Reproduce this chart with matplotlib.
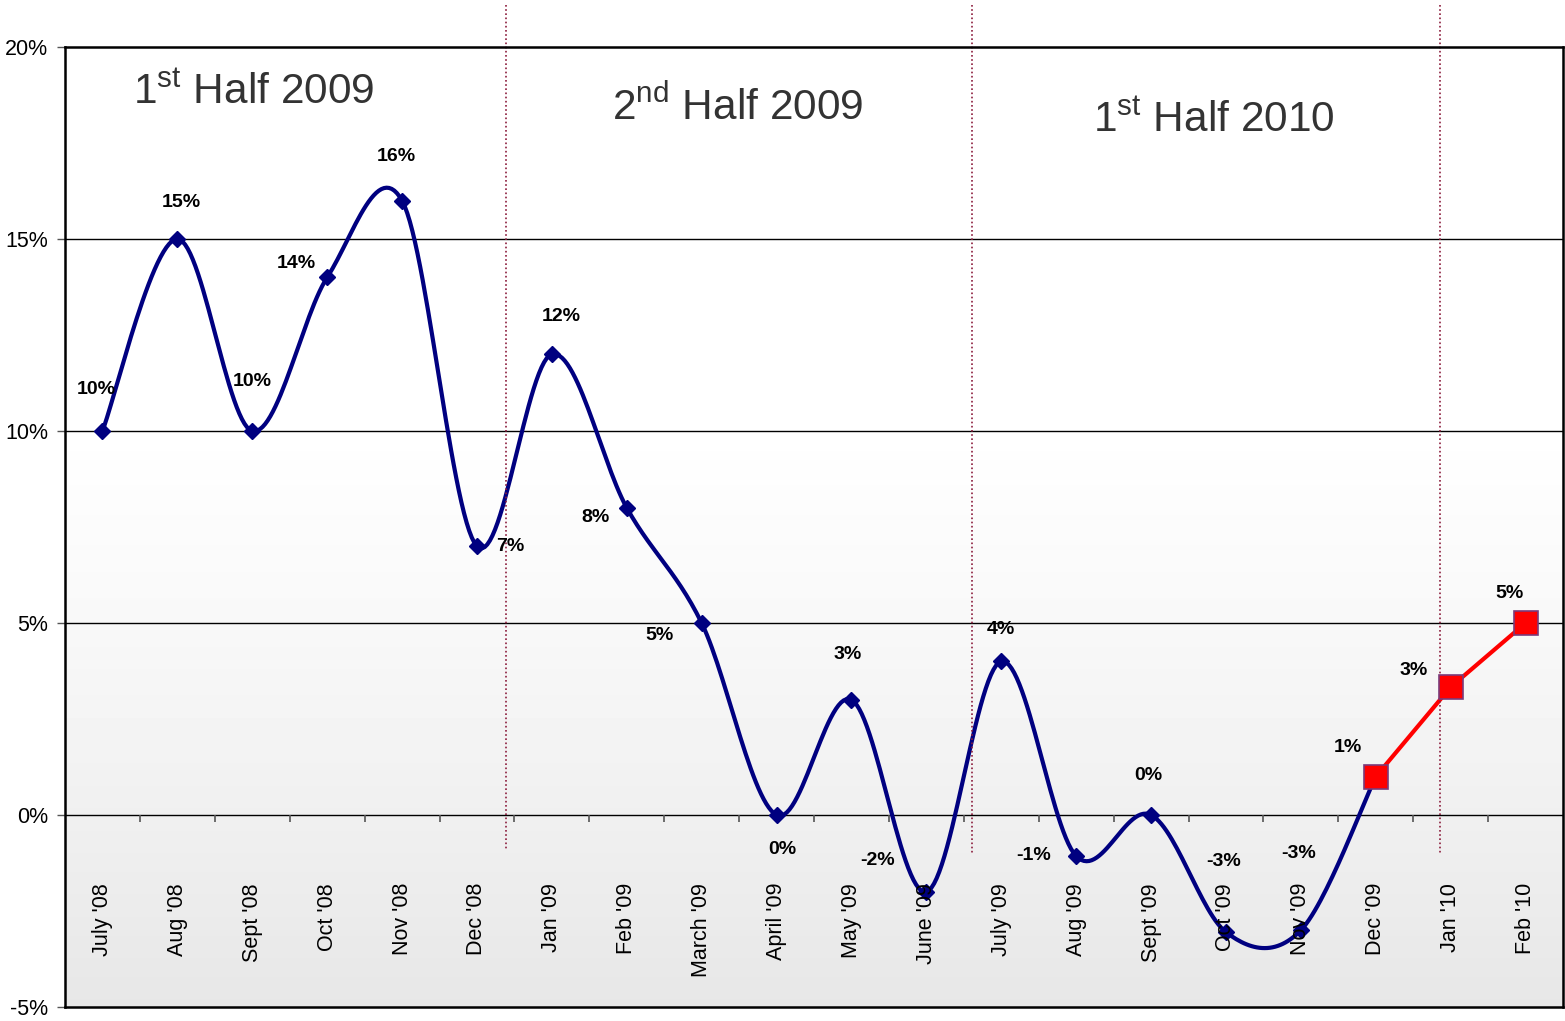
import numpy as np
import matplotlib
matplotlib.use("Agg")
import matplotlib.pyplot as plt
import matplotlib.transforms as mtransforms

plt.rcParams['font.family'] = ['Liberation Sans', 'DejaVu Sans']
plt.rcParams['mathtext.fontset'] = 'custom'
plt.rcParams['mathtext.rm'] = 'Liberation Sans'
plt.rcParams['mathtext.it'] = 'Liberation Sans'

# ---------------- data ----------------
months = ["July '08", "Aug '08", "Sept '08", "Oct '08", "Nov '08", "Dec '08",
          "Jan '09", "Feb '09", "March '09", "April '09", "May '09", "June '09",
          "July '09", "Aug '09", "Sept '09", "Oct '09", "Nov '09", "Dec '09",
          "Jan '10", "Feb '10"]
actual = [10, 15, 10, 14, 16, 7, 12, 8, 5, 0, 3, -2, 4, -1.07, 0, -3.05, -3, 1]
forecast = [1, 3.33, 5]            # Dec '09 .. Feb '10
actual_labels = ["10%", "15%", "10%", "14%", "16%", "7%", "12%", "8%", "5%", "0%",
                 "3%", "-2%", "4%", "-1%", "0%", "-3%", "-3%"]
forecast_labels = ["1%", "3%", "5%"]
period_titles = [r"1$^{\mathrm{st}}$ Half 2009", r"2$^{\mathrm{nd}}$ Half 2009",
                 r"1$^{\mathrm{st}}$ Half 2010"]
yticks = [-5, 0, 5, 10, 15, 20]

# label offsets in pixels (dx right, dy down)
act_off = [(-6, -41), (4, -36), (0, -49), (-31, -14), (-6, -44), (33, 0), (9, -38),
           (-31, 10), (-42, 12), (6, 35), (-4, -45), (-49, -31), (0, -32), (-43, -1),
           (-3, -40), (-2, -71), (-2, -77)]
fc_off = [(-28, -29), (-37, -17), (-16, -29)]

# ---------------- figure ----------------
W, H = 1565, 1021
fig = plt.figure(figsize=(W / 100, H / 100), dpi=100)
fig.patch.set_facecolor('white')
ax = fig.add_axes([65 / W, 1 - 1007 / H, (1563 - 65) / W, (1007 - 47) / H])
ax.set_xlim(-0.5, len(months) - 0.5)
ax.set_ylim(-5, 20)

# background gradient
frac = np.linspace(0, 1, 256)
shade = np.where(frac > 0.62, 1.0, 1.0 - 0.095 * ((0.62 - frac) / 0.62) ** 1.2)
grad = np.tile(shade[:, None], (1, 2))
ax.imshow(grad, cmap='gray', vmin=0, vmax=1, origin='lower', aspect='auto',
          extent=[0, 1, 0, 1], transform=ax.transAxes, zorder=0)

# horizontal grid lines
for v in yticks[1:-1]:
    ax.axhline(v, color='black', lw=1.0, zorder=1)

# x tick marks below zero line at category boundaries
xt = np.arange(0.5, len(months) - 1, 1.0)
ax.vlines(xt, -0.17, 0, color='#555555', lw=1.2, zorder=1)

# spines
for s in ax.spines.values():
    s.set_color('black')
    s.set_linewidth(1.8)
    s.set_zorder(6)

ax.set_xticks([])
ax.set_yticks(yticks)
ax.set_yticklabels([f"{v}%" for v in yticks], fontsize=15.5)
ax.tick_params(axis='y', length=6, width=1, color='#555555', pad=6)

# category labels
trans = mtransforms.blended_transform_factory(ax.transData, ax.transAxes)
for i, m in enumerate(months):
    ax.text(i, (1007 - 883) / 960, m, rotation=90, ha='center', va='top',
            fontsize=15.5, transform=trans, zorder=5)

# vertical dotted separators
for xpx, ybot in [(507, 850), (973, 855), (1442, 855)]:
    xd = (xpx - 65) / 75 - 0.5
    ax.plot([xd, xd], [(1007 - 5) / 960, (1007 - ybot) / 960], transform=trans,
            color='#8b1c3c', lw=1.2, ls=(0, (1, 1.5)), clip_on=False, zorder=4)

# Excel-style smoothed line (Catmull-Rom Bezier)
def smooth(xs, ys, n=30):
    xs = np.asarray(xs, float)
    ys = np.asarray(ys, float)
    P = np.column_stack([xs, ys])
    out = []
    for i in range(len(P) - 1):
        p0 = P[i - 1] if i > 0 else P[i]
        p1 = P[i]
        p2 = P[i + 1]
        p3 = P[i + 2] if i + 2 < len(P) else P[i + 1]
        c1 = p1 + (p2 - p0) / 6.0
        c2 = p2 - (p3 - p1) / 6.0
        t = np.linspace(0, 1, n)[:, None]
        seg = ((1 - t) ** 3) * p1 + 3 * ((1 - t) ** 2) * t * c1 + 3 * (1 - t) * t ** 2 * c2 + t ** 3 * p2
        out.append(seg if i == 0 else seg[1:])
    return np.vstack(out)

xa = np.arange(len(actual))
curve = smooth(xa, actual)
ax.plot(curve[:, 0], curve[:, 1], color='#000080', lw=3, zorder=3, solid_capstyle='round')
ax.plot(xa[:-1], actual[:-1], ls='none', marker='D', ms=8, color='#000080', zorder=3)

xf = np.arange(len(months) - len(forecast), len(months))
ax.plot(xf, forecast, color='#ff0000', lw=3, zorder=3)
ax.plot(xf, forecast, ls='none', marker='s', ms=17, markerfacecolor='#ff0000',
        markeredgecolor='#7a3a7a', markeredgewidth=1.2, zorder=4, clip_on=False)

# data labels
for i, (lab, (dx, dy)) in enumerate(zip(actual_labels, act_off)):
    ax.annotate(lab, (xa[i], actual[i]), xytext=(dx * 0.72, -dy * 0.72),
                textcoords='offset points', ha='center', va='center',
                fontsize=14, fontweight='bold', zorder=5)
for i, (lab, (dx, dy)) in enumerate(zip(forecast_labels, fc_off)):
    ax.annotate(lab, (xf[i], forecast[i]), xytext=(dx * 0.72, -dy * 0.72),
                textcoords='offset points', ha='center', va='center',
                fontsize=14, fontweight='bold', zorder=5)

# period titles
for t, (cx, cy) in zip(period_titles, [(254, 93), (738, 107), (1214, 121)]):
    fig.text(cx / W, 1 - cy / H, t, ha='center', va='center', fontsize=30.5,
             color='#333333')

fig.savefig('out.png', dpi=100, facecolor='white')
